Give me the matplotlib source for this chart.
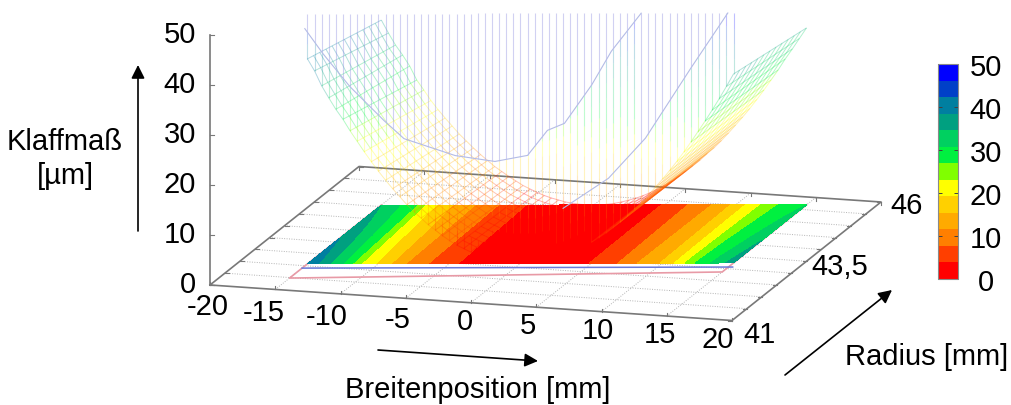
import numpy as np
import matplotlib
matplotlib.use('Agg')
import matplotlib.pyplot as plt
from matplotlib.collections import LineCollection
from matplotlib.colors import ListedColormap, BoundaryNorm
from matplotlib.cm import ScalarMappable

plt.rcParams['font.family'] = ['Liberation Sans', 'DejaVu Sans']

# axis ticks
x_ticks = [-20, -15, -10, -5, 0, 5, 10, 15, 20]
r_grid = [41, 41.5, 42, 42.5, 43, 43.5, 44, 44.5, 45, 45.5, 46]
r_labels = [(41, '41'), (43.5, '43,5'), (46, '46')]
z_ticks = [0, 10, 20, 30, 40, 50]
cbar_ticks = [0, 10, 20, 30, 40, 50]

# colour bands of the scale, bottom to top
band_colors = ['#ff0000', '#ff3f00', '#ff7f00', '#ffaa00', '#ffd000', '#ffff00', '#80ff00',
               '#00f040', '#00d060', '#00a080', '#007fa0', '#0040c8', '#0000ff']

# gap in um over width position, two rows of the flat map
x_pos = np.arange(-15, 15.5, 0.5)
z_front = np.array([41.5, 39.5, 37.5, 35, 33, 30.6, 28, 24.4, 22, 20.2, 18.5, 16.8, 15, 13, 11.3, 10, 8.7, 7.7, 6.7, 5.8,
                    4.9, 4.0, 3.3, 2.6, 2, 1.5, 1, .6, .3, .1, 0, .1, .2, .5, .8, 1.3, 1.8, 2.4, 3.1, 3.5,
                    4, 4.9, 5.9, 6.9, 8, 9.4, 10.9, 12.2, 13.5, 14.6, 15.8, 17.8, 20, 22.6, 25.5, 27.8, 29.5, 31.2,
                    32.8, 34.9, 37])
z_back = np.array([34.5, 33.2, 31.7, 30.2, 28.5, 26.9, 23.5, 21, 18.8, 17, 15.4, 14.2, 13, 11.8, 10.7, 9.5, 8.3, 7.1, 6, 5,
                   4.2, 3.4, 2.6, 2, 1.4, 1, .6, .3, .1, 0, 0, 0, .1, .3, .6, 1, 1.4, 2, 2.6, 3.4,
                   4.3, 5.2, 6.2, 7.4, 8.6, 9.7, 10.8, 12, 13.3, 14.9, 16.6, 18.5, 20.5, 22.2, 23.8, 25.4, 26.9, 27.9,
                   28.8, 29.8, 30.8])

# same two rows as the wire surface shows them
wire_front = np.array([41, 38.6, 35.6, 33.2, 30.9, 28.9, 26.6, 24.5, 22.4, 20.4, 18.5, 16.7, 15, 13.4, 11.8, 10.4, 9.1,
                       7.8, 6.7, 5.6, 4.6, 3.7, 3, 2.3, 1.7, 1.2, .7, .4, .2, .05, 0, .04, .17, .38, .67, 1.05, 1.5,
                       2.06, 2.7, 3.4, 4.2, 5.1, 6, 7.1, 8.2, 9.5, 10.8, 12.1, 13.6, 15.2, 16.8, 18.5, 20.3, 22.2,
                       24.2, 26.3, 28.4, 30.6, 32.9, 35.3, 37.8])
wire_back = np.array([37, 34.4, 32, 30, 27.8, 25, 23, 20.9, 19.1, 17.4, 15.8, 14.2, 12.8, 11.4, 10.1, 8.9, 7.7, 6.7, 5.7,
                      4.8, 3.9, 3.2, 2.5, 1.9, 1.4, 1, .6, .35, .15, .04, 0, .04, .16, .36, .63, 1, 1.4, 1.9, 2.5,
                      3.2, 4, 4.8, 5.8, 6.8, 7.9, 9, 10.3, 11.5, 12.9, 14.4, 16, 17.6, 19.3, 21.1, 23, 25, 27, 29.2,
                      31.2, 33.3, 35.4])

# steep part in front of the surface, two lines of it
curve1_x = [-15.2, -13.9, -12, -9.6, -8.2, -4.6, -1.8, 0.5, 1.9, 3.1, 5, 6.4, 8.5]
curve1_z = [47, 42, 35.4, 28.6, 25, 21.6, 20.4, 21.6, 26.6, 28, 35.6, 42.4, 50]
curve2_x = [3, 6.2, 8.8, 12, 14.6]
curve2_z = [11, 17, 25, 39, 50]

# outlines on the floor: x, r
pink_x = [-15, -15, 15, 15]
pink_r = [44.56, 41.48, 42.86, 45.69]
blue_x = [-15, 15.3]
blue_r = [41.9, 43.08]
map_r_front = [42.08, 43.24]
map_r_back = [44.56, 45.69]

FS = 21


def proj(x, r, z=0):
    x, r, z = np.asarray(x, float), np.asarray(r, float), np.asarray(z, float)
    px = 210 + (x + 20) * 13.05 + (r - 41) * 29.8
    py = 286 + (x + 20) * 0.8875 - (r - 41) * 23.7 - z * 5
    return px, py


def along(ends):
    return ends[0] + (x_pos + 15) / 30 * (ends[1] - ends[0])


cmap = ListedColormap(band_colors)
levels = np.linspace(0, 50, 14)
norm = BoundaryNorm(levels, cmap.N)

fig = plt.figure(figsize=(10.11, 4.06), dpi=100)
ax = fig.add_axes([0, 0, 1, 1])
ax.set_xlim(0, 1011)
ax.set_ylim(406, 0)
ax.axis('off')

# floor grid
grid = dict(color='#b4b4b4', lw=0.7, ls=(0, (1, 1.5)), zorder=1)
for x in x_ticks[1:-1]:
    ax.plot(*proj([x, x], [41, 46]), **grid)
for r in r_grid[1:-1]:
    ax.plot(*proj([-20, 20], [r, r]), **grid)

# box and z axis
edge = dict(color='#787878', lw=1.2, zorder=2)
ax.plot(*proj([-20, 20, 20, -20, -20], [41, 41, 46, 46, 41]), **edge)
ax.plot(*proj([-20, -20], [41, 41], [0, 50]), **edge)
x_label_off = [(-2, 21), (-12, 23), (-14, 22), (-8, 21), (-6, 18), (-8, 18), (-4, 18), (-7, 18), (-14, 18.5)]
for x, off in zip(x_ticks, x_label_off):
    px, py = proj(x, 41)
    ax.plot([px, px], [py, py - 3], color='#787878', lw=0.8, zorder=2)
    ax.text(px + off[0], py + off[1], str(x), fontsize=FS, ha='center', va='center')
    px, py = proj(x, 46)
    ax.plot([px, px], [py, py + 3], color='#787878', lw=0.8, zorder=2)
for r in r_grid:
    px, py = proj(-20, r)
    ax.plot([px, px + 4], [py, py], color='#787878', lw=0.8, zorder=2)
    px, py = proj(20, r)
    ax.plot([px, px - 4], [py, py], color='#787878', lw=0.8, zorder=2)
for z in z_ticks:
    px, py = proj(-20, 41, z)
    ax.plot([px, px + 4], [py, py], color='#787878', lw=0.8, zorder=2)
    ax.text(px - 14, py - 1, str(z), fontsize=FS, ha='right', va='center')
for (r, label), off in zip(r_labels, [(27, 14), (33, 5), (26, 3)]):
    px, py = proj(20, r)
    ax.text(px + off[0], py + off[1], label, fontsize=FS, ha='center', va='center')

# outlines on the floor
ax.plot(*proj(pink_x, pink_r), color='#e89aa6', lw=1.2, zorder=3)
ax.plot(*proj(blue_x, blue_r), color='#6a78d8', lw=1.1, zorder=3)

# flat contour map
r_f, r_b = along(map_r_front), along(map_r_back)
PX = np.array([proj(x_pos, r_f)[0], proj(x_pos, r_b)[0]])
PY = np.array([proj(x_pos, r_f)[1], proj(x_pos, r_b)[1]])
ax.contourf(PX, PY, np.array([z_front, z_back]), levels=levels, colors=band_colors, zorder=4)

# wire surface, rows along x and columns along r
segs, cols = [], []
for t in np.linspace(0, 1, 13):
    zz = wire_front + t * (wire_back - wire_front)
    px, py = proj(x_pos, r_f + t * (r_b - r_f), zz)
    for i in range(len(x_pos) - 1):
        segs.append([(px[i], py[i]), (px[i + 1], py[i + 1])])
        cols.append(zz[i])
for i in range(len(x_pos)):
    p0 = proj(x_pos[i], r_f[i], wire_front[i])
    p1 = proj(x_pos[i], r_b[i], wire_back[i])
    segs.append([p0, p1])
    cols.append((wire_front[i] + wire_back[i]) / 2)
rgba = cmap(norm(cols))
rgba[:, 3] = 0.3
ax.add_collection(LineCollection(segs, colors=rgba, linewidths=0.7, zorder=5))

# near vertical lines from the front row up to the top of the scale
segs, cols = [], []
for i in range(len(x_pos)):
    x = x_pos[i]
    if x < 8.5:
        limit = np.interp(x, curve1_x, curve1_z)
    else:
        limit = np.interp(x, curve2_x, curve2_z)
    limit = max(limit, wire_front[i])
    heights = list(np.arange(wire_front[i], limit, 3)) + [limit]
    for a, b in zip(heights[:-1], heights[1:]):
        p0 = proj(x, r_f[i], a)
        p1 = proj(x, r_f[i], b)
        segs.append([p0, p1])
        cols.append(cmap(norm(a))[:3] + (0.25,))
    segs.append([proj(x, r_f[i], limit), proj(x, r_f[i], 50)])
    cols.append((0.55, 0.55, 0.88, 0.4))
ax.add_collection(LineCollection(segs, colors=cols, linewidths=0.8, zorder=5))

# the two lines across them
rf1 = np.interp(curve1_x, x_pos, r_f)
rf2 = np.interp(curve2_x, x_pos, r_f)
ax.plot(*proj(curve1_x, rf1, curve1_z), color='#b4bce6', lw=0.8, zorder=6)
ax.plot(*proj(curve2_x, rf2, curve2_z), color='#b4bce6', lw=0.8, zorder=6)

# axis titles and arrows
ax.text(65, 159, 'Klaffmaß\n[µm]', fontsize=FS, ha='center', va='center', linespacing=1.25)
ax.text(478, 390, 'Breitenposition [mm]', fontsize=FS, ha='center', va='center')
ax.text(927, 357, 'Radius [mm]', fontsize=FS, ha='center', va='center')
arrow = dict(arrowstyle='-|>', color='black', lw=1.2, mutation_scale=20, shrinkA=0, shrinkB=0)
ax.annotate('', xy=(138, 66), xytext=(138, 232), arrowprops=arrow)
ax.annotate('', xy=(538, 362), xytext=(378, 351), arrowprops=arrow)
ax.annotate('', xy=(892, 291), xytext=(785, 376), arrowprops=arrow)

# colour bar
cax = fig.add_axes([938 / 1011, 1 - 280 / 406, 20 / 1011, 215 / 406])
cb = fig.colorbar(ScalarMappable(norm=norm, cmap=cmap), cax=cax, ticks=cbar_ticks, spacing='proportional')
cb.outline.set_edgecolor('#8a8a8a')
cb.outline.set_linewidth(0.8)
cax.tick_params(axis='y', which='major', direction='in', length=3, width=0.7, color='#404040',
                left=True, right=True, labelsize=FS, pad=20)
cax.tick_params(axis='y', which='minor', length=0)
for label in cax.get_yticklabels():
    label.set_ha('center')

fig.savefig('out.png', dpi=100)
